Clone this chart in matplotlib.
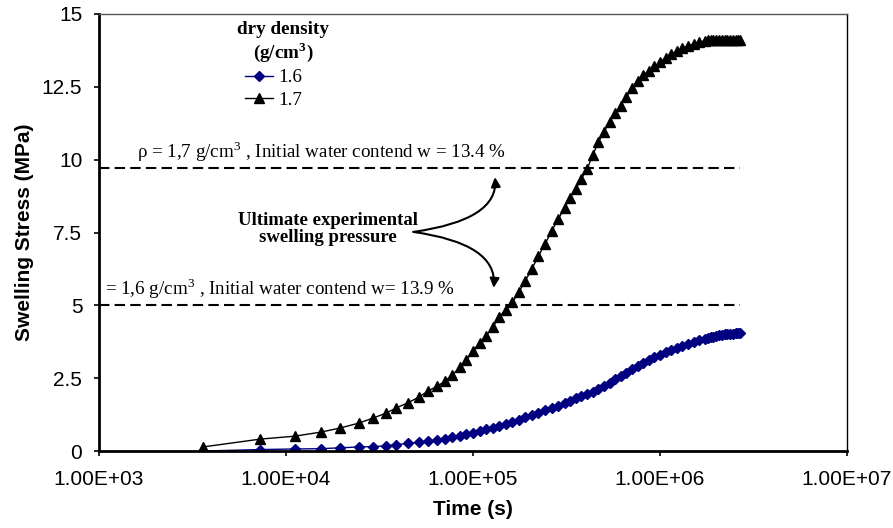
import matplotlib
matplotlib.use("Agg")
import matplotlib.pyplot as plt

# time (s), shared by both tests
time_s = [3600, 7300, 11170, 15380, 19500, 24550, 29170, 34280, 38900, 44670,
          51290, 57540, 64570, 70790, 77620, 85110, 92260, 100000, 108400, 117500,
          127400, 138000, 149600, 162200, 175800, 190500, 206500, 223900, 242700, 263000,
          285100, 309000, 331100, 354800, 380200, 407400, 436500, 467700, 501200, 537000,
          575400, 616600, 660700, 707900, 758600, 812800, 871000, 933300, 1000000, 1071500,
          1148200, 1230300, 1318300, 1412500, 1513600, 1621800, 1737800, 1798900, 1862100, 1927500,
          1995300, 2065400, 2138000, 2213100, 2290900, 2371400, 2454700, 2541000, 2618200, 2691500]

# swelling stress (MPa), dry density 1.6 g/cm3
stress_16 = [0.00, 0.05, 0.07, 0.08, 0.11, 0.14, 0.15, 0.18, 0.22, 0.26,
             0.30, 0.34, 0.38, 0.42, 0.49, 0.53, 0.58, 0.63, 0.68, 0.74,
             0.79, 0.86, 0.93, 1.00, 1.08, 1.16, 1.24, 1.32, 1.40, 1.48,
             1.56, 1.65, 1.73, 1.81, 1.89, 1.97, 2.03, 2.13, 2.24, 2.35,
             2.46, 2.57, 2.68, 2.80, 2.92, 3.03, 3.13, 3.22, 3.30, 3.39,
             3.47, 3.55, 3.62, 3.69, 3.75, 3.81, 3.86, 3.88, 3.91, 3.93,
             3.95, 3.97, 3.99, 4.00, 4.01, 4.02, 4.03, 4.04, 4.05, 4.05]

# swelling stress (MPa), dry density 1.7 g/cm3
stress_17 = [0.14, 0.41, 0.51, 0.65, 0.79, 0.96, 1.13, 1.30, 1.48, 1.65,
             1.85, 2.06, 2.23, 2.40, 2.62, 2.87, 3.12, 3.45, 3.70, 3.95,
             4.25, 4.60, 4.85, 5.10, 5.45, 5.85, 6.25, 6.70, 7.10, 7.55,
             7.95, 8.35, 8.70, 9.00, 9.35, 9.68, 10.15, 10.60, 10.95, 11.30,
             11.60, 11.85, 12.15, 12.45, 12.70, 12.90, 13.05, 13.20, 13.35, 13.50,
             13.62, 13.72, 13.82, 13.90, 13.97, 14.03, 14.08, 14.10, 14.12, 14.12,
             14.12, 14.12, 14.12, 14.12, 14.12, 14.12, 14.12, 14.12, 14.12, 14.12]

ultimate_17 = 9.7
ultimate_16 = 5.0

serif = "Liberation Serif"
sans = "Liberation Sans"
plt.rcParams["mathtext.fontset"] = "custom"
plt.rcParams["mathtext.rm"] = serif
plt.rcParams["mathtext.bf"] = serif + ":bold"

fig = plt.figure(figsize=(8.93, 5.28), dpi=100)
ax = fig.add_axes([0.1109, 0.1458, 0.8376, 0.8277])

ax.plot(time_s, stress_16, color="#000080", lw=1, marker="D", ms=4.8,
        mec="#000080", mfc="#000080", label="1.6")
ax.plot(time_s, stress_17, color="black", lw=1, marker="^", ms=6.5,
        mec="black", mfc="black", label="1.7")

ax.hlines([ultimate_17, ultimate_16], 1e3, time_s[-1], colors="black",
          lw=1.5, linestyles=(0, (5, 2.5)))

ax.set_xscale("log")
ax.set_xlim(1e3, 1e7)
ax.set_ylim(0, 15)
ax.set_xticks([1e3, 1e4, 1e5, 1e6, 1e7])
ax.set_xticklabels(["1.00E+03", "1.00E+04", "1.00E+05", "1.00E+06", "1.00E+07"])
ax.minorticks_off()
ax.set_yticks([0, 2.5, 5, 7.5, 10, 12.5, 15])
ax.set_yticklabels(["0", "2.5", "5", "7.5", "10", "12.5", "15"])
ax.tick_params(direction="out", length=3.5, width=1.2, labelsize=15)
ax.tick_params(axis="x", pad=10)
ax.tick_params(axis="y", pad=8.5)
for lab in ax.get_xticklabels() + ax.get_yticklabels():
    lab.set_family(sans)

ax.spines["left"].set_linewidth(2)
ax.spines["bottom"].set_linewidth(2)
ax.spines["right"].set_linewidth(1)
ax.spines["top"].set_linewidth(1)
ax.spines["top"].set_color("#555555")

ax.set_xlabel("Time (s)", family=sans, fontsize=15, fontweight="bold", labelpad=8)
ax.set_ylabel("Swelling Stress (MPa)", family=sans, fontsize=15, fontweight="bold", labelpad=6)

# annotations
ax.text(1.6e3, 10.06, "ρ = 1,7 g/cm$^3$ , Initial water contend w = 13.4 %",
        family=serif, fontsize=13.7, va="baseline")
ax.text(1.076e3, 5.36, "= 1,6 g/cm$^3$ , Initial water contend w= 13.9 %",
        family=serif, fontsize=13.7, va="baseline")
ax.text(1.68e4, 7.62, "Ultimate experimental\nswelling pressure", family=serif,
        fontsize=13.5, fontweight="bold", ha="center", va="center", linespacing=1.05)
ax.annotate("", xy=(1.31e5, 9.4), xytext=(4.8e4, 7.52),
            arrowprops=dict(arrowstyle="-|>", color="black", lw=1.5, mutation_scale=14,
                            shrinkA=0, shrinkB=0,
                            connectionstyle="angle3,angleA=8,angleB=95"))
ax.annotate("", xy=(1.29e5, 5.6), xytext=(4.8e4, 7.52),
            arrowprops=dict(arrowstyle="-|>", color="black", lw=1.5, mutation_scale=14,
                            shrinkA=0, shrinkB=0,
                            connectionstyle="angle3,angleA=-8,angleB=-95"))

# legend with its title drawn as a separate text
ax.text(0.246, 0.935, "dry density\n(g/cm$^{\\mathbf{3}}$)", transform=ax.transAxes,
        family=serif, fontsize=13.8, fontweight="bold", ha="center", va="center",
        linespacing=1.1)
ax.legend(loc="upper left", bbox_to_anchor=(0.195, 0.874), frameon=False,
          prop={"family": serif, "size": 13.8},
          handlelength=1.45, handletextpad=0.3, labelspacing=0.25,
          borderpad=0, borderaxespad=0)

fig.savefig("out.png", dpi=100)
